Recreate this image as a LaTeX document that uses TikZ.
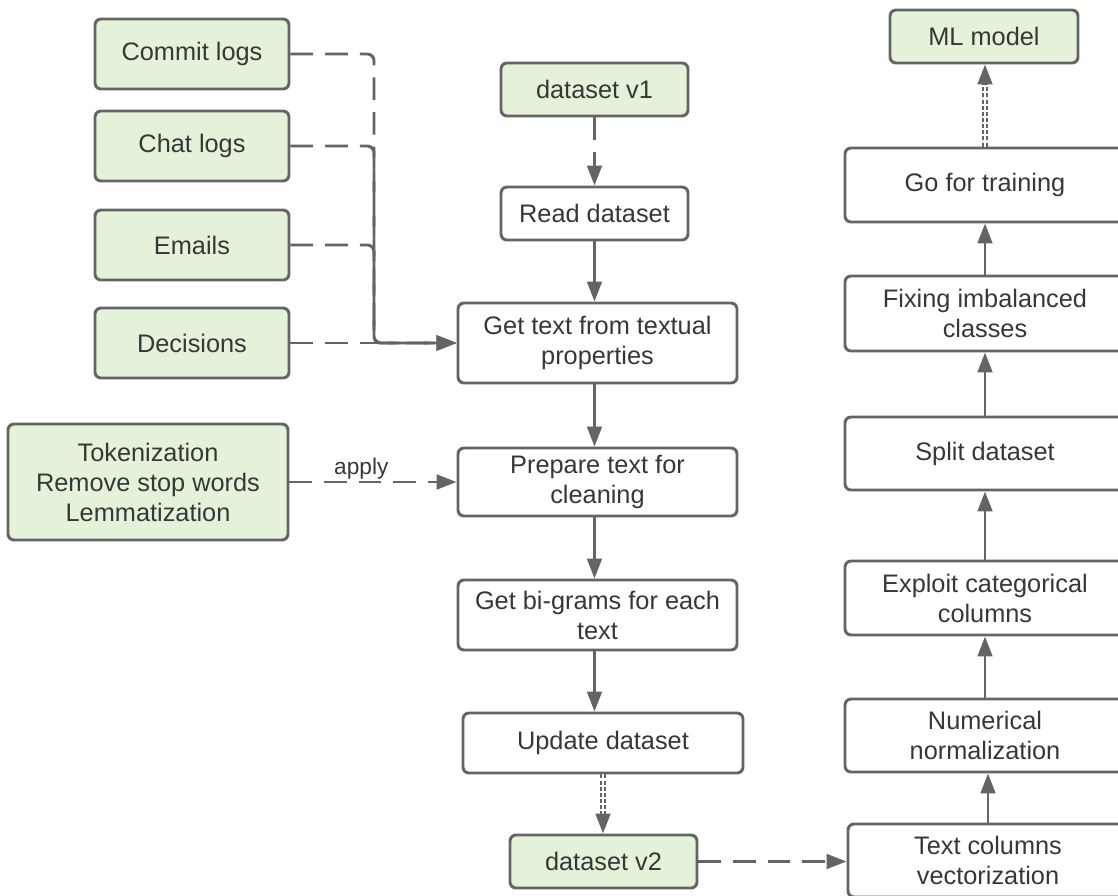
\documentclass[tikz,border=0pt]{standalone}
\usepackage{fontspec}
\setmainfont{Liberation Sans}
\usetikzlibrary{arrows.meta,calc}
\definecolor{lc}{RGB}{100,100,100}
\definecolor{gf}{RGB}{227,242,217}
\definecolor{tc}{RGB}{55,55,55}
\begin{document}
\begin{tikzpicture}[x=0.75pt,y=-0.75pt,
 box/.style={draw=lc, line width=2.2pt, rounded corners=4.5pt, fill=white, text=tc, align=center, font=\fontsize{19}{22.5}\selectfont, inner sep=0pt},
 gbox/.style={box, fill=gf},
 sz/.style 2 args={minimum width=#1*0.75pt, minimum height=#2*0.75pt},
 arr/.style={draw=lc, line width=2.2pt, -{Triangle[length=15pt,width=11pt]}},
 darr/.style={arr, dash pattern=on 17pt off 9pt},
 dbl/.style={draw=lc, line width=1.3pt, double=white, double distance=1.8pt, dash pattern=on 3pt off 1.6pt},
 lbl/.style={text=tc, font=\fontsize{17}{20}\selectfont, inner sep=1pt}
]
\useasboundingbox (0,0) rectangle (1118,896);
\clip (0,0) rectangle (1118,896);

% left sources
\node[gbox, sz={194}{70}] (commit) at (192,54) {Commit logs};
\node[gbox, sz={194}{70}] (chat) at (192,146) {Chat logs};
\node[gbox, sz={194}{70}] (emails) at (192,245) {Emails};
\node[gbox, sz={194}{70}] (dec) at (192,343) {Decisions};
\node[gbox, sz={280}{116}] (tok) at (148,482) {Tokenization\\Remove stop words\\Lemmatization};

% middle column
\node[gbox, sz={187}{53}] (v1) at (594.5,89.5) {dataset v1};
\node[box, sz={187}{53}] (read) at (594.5,213.5) {Read dataset};
\node[box, sz={279}{80}] (gettext) at (597.5,343) {Get text from textual\\properties};
\node[box, sz={279}{68}] (prep) at (597.5,482) {Prepare text for\\cleaning};
\node[box, sz={279}{70}] (bigram) at (597.5,615) {Get bi-grams for each\\text};
\node[box, sz={280}{60}] (upd) at (603,743) {Update dataset};
\node[gbox, sz={187}{53}] (v2) at (603.5,861.5) {dataset v2};

% right column
\node[gbox, sz={188}{53}] (ml) at (984,36.5) {ML model};
\node[box, sz={280}{74}] (train) at (985,185) {Go for training};
\node[box, sz={280}{75}] (fix) at (985,313.5) {Fixing imbalanced\\classes};
\node[box, sz={280}{73}] (split) at (985,453.5) {Split dataset};
\node[box, sz={280}{74}] (exploit) at (985,598) {Exploit categorical\\columns};
\node[box, sz={280}{73}] (num) at (985,735.5) {Numerical\\normalization};
\node[box, sz={280}{73}] (tcv) at (988,860.5) {Text columns\\vectorization};

% merging dashed bus
\coordinate (busx) at (374,0);
\coordinate (bus) at (gettext.west -| busx);
\draw[darr, rounded corners=5pt] (commit.east) -| (bus) -- (gettext.west);
\draw[darr, rounded corners=5pt] (chat.east) -| (bus) -- (gettext.west);
\draw[darr, rounded corners=5pt] (emails.east) -| (bus) -- (gettext.west);
\draw[darr] (dec.east) -- (gettext.west);
\draw[darr] (tok.east) -- node[lbl, above, pos=0.43] {apply} (prep.west);

% middle flow
\draw[darr] (v1.south) -- (read.north);
\draw[arr] (read.south) -- (read.south |- gettext.north);
\draw[arr] (read.south |- gettext.south) -- (read.south |- prep.north);
\draw[arr] (read.south |- prep.south) -- (read.south |- bigram.north);
\draw[arr] (read.south |- bigram.south) -- (read.south |- upd.north);
\draw[dbl, shorten >=14pt] (upd.south) -- (upd.south |- v2.north);
\draw[arr] ([yshift=15pt]upd.south |- v2.north) -- (upd.south |- v2.north);
\draw[darr] (v2.east) -- (v2.east -| tcv.west);

% right flow
\draw[arr] (tcv.north) -- (tcv.north |- num.south);
\draw[arr] (num.north) -- (exploit.south);
\draw[arr] (exploit.north) -- (split.south);
\draw[arr] (split.north) -- (fix.south);
\draw[arr] (fix.north) -- (train.south);
\draw[dbl, shorten >=14pt] (train.north) -- (train.north |- ml.south);
\draw[arr] ([yshift=-15pt]train.north |- ml.south) -- (train.north |- ml.south);
\end{tikzpicture}
\end{document}
